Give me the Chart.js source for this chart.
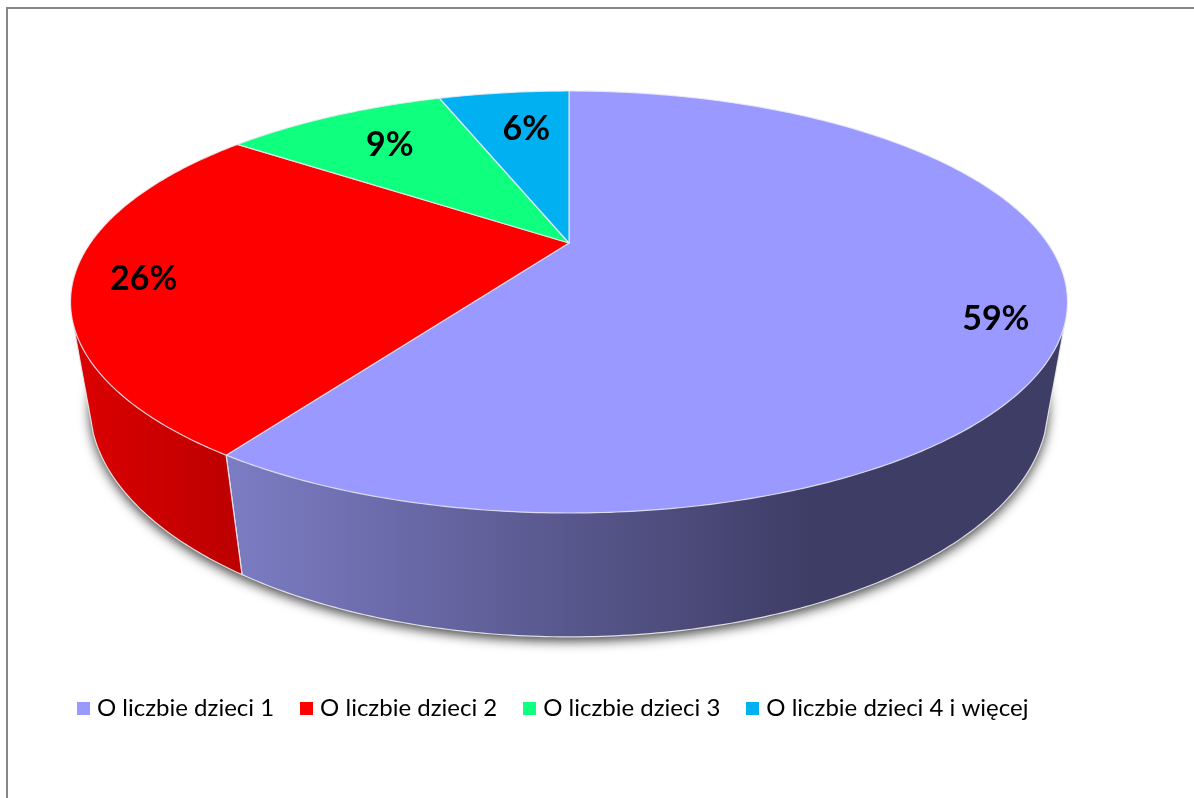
<!DOCTYPE html>
<html lang="pl">
<head>
<meta charset="utf-8">
<title>O liczbie dzieci</title>
<script src="https://cdn.jsdelivr.net/npm/chart.js@4"></script>
<style>
  html, body { margin: 0; background: #fff; overflow: hidden; }
  #box { position: absolute; left: 0; top: 0; width: 1194px; height: 798px; }
  #frame { position: absolute; left: 6px; top: 7px; right: 0; bottom: 0;
           border-left: 2px solid #868686; border-top: 2px solid #868686; }
</style>
</head>
<body>
<div id="box">
  <div id="frame"></div>
  <canvas id="chartMain" width="1194" height="798"></canvas>
</div>
<script>
// data
const categories = ['O liczbie dzieci 1', 'O liczbie dzieci 2', 'O liczbie dzieci 3', 'O liczbie dzieci 4 i więcej'];
const shares = [59.25, 25.8, 9.4, 5.55];
const sliceColors = ['#9999FF', '#FF0000', '#0FFF7F', '#00B0F0'];

// side wall shading, left and right colour of each slice
const wallLeft = ['#7C7CC4', '#DA0000', '#0FFF7F', '#00B0F0'];
const wallRight = ['#3E3D66', '#BC0000', '#0FFF7F', '#00B0F0'];
const wallFrom = [228, 85, 0, 0];
const wallTo = [810, 240, 1, 1];

// where each percent label sits: fraction of the radius, then a nudge in px
const labelRadius = [0.87, 0.87, 0.72, 0.7];
const labelNudgeX = [-2, 3, -1, 6];
const labelNudgeY = [24, 5, -2, -2];

// perspective of the disc
const view = { x: 569, y: 243, a: 478.6, b: 194.5, k: 0.2796, nadirY: 3030, depth: 0.0373, wallEdge: 0.386 };

function project(angle, frac, lower) {
  const u = Math.cos(angle) * frac, v = Math.sin(angle) * frac;
  const w = 1 - view.k * v;
  const X = view.x + view.a * u / w, Y = view.y + view.b * v / w;
  if (!lower) return [X, Y];
  const d = view.depth;
  return [(w * X + d * view.x) / (w + d), (w * Y + d * view.nadirY) / (w + d)];
}

function traceRim(ctx, from, to, frac, lower) {
  const steps = Math.max(2, Math.ceil(Math.abs(to - from) * 90));
  for (let i = 0; i <= steps; i++) {
    const p = project(from + (to - from) * i / steps, frac, lower);
    ctx.lineTo(p[0], p[1]);
  }
}

function strokeRuling(ctx, angle) {
  const p = project(angle, 1, false), q = project(angle, 1, true);
  ctx.beginPath();
  ctx.moveTo(p[0], p[1]);
  ctx.lineTo(q[0], q[1]);
  ctx.stroke();
}

class Arc3D extends Chart.ArcElement {
  static id = 'arc3d';
  draw(ctx) {
    const idx = this.$context.dataIndex;
    const o = this.options;
    const start = this.startAngle, end = this.endAngle;
    ctx.save();
    ctx.lineJoin = 'round';

    // front wall, only the part facing the viewer
    const a0 = Math.max(start, view.wallEdge), a1 = Math.min(end, Math.PI - view.wallEdge);
    if (a1 > a0) {
      const g = ctx.createLinearGradient(wallFrom[idx], 0, wallTo[idx], 0);
      g.addColorStop(0, wallLeft[idx]);
      g.addColorStop(1, wallRight[idx]);
      ctx.beginPath();
      traceRim(ctx, a0, a1, 1, false);
      traceRim(ctx, a1, a0, 1, true);
      ctx.closePath();
      ctx.fillStyle = g;
      ctx.fill();
      ctx.strokeStyle = 'rgba(235,235,240,0.9)';
      ctx.lineWidth = 1.2;
      ctx.beginPath();
      traceRim(ctx, a0, a1, 1, true);
      ctx.stroke();
      strokeRuling(ctx, a0);
      strokeRuling(ctx, a1);
    }

    // top of the slice
    ctx.beginPath();
    ctx.moveTo(view.x, view.y);
    traceRim(ctx, start, end, 1, false);
    ctx.closePath();
    ctx.fillStyle = o.backgroundColor;
    ctx.fill();
    ctx.strokeStyle = o.borderColor;
    ctx.lineWidth = o.borderWidth;
    ctx.stroke();
    ctx.restore();
  }
}

class Pie3D extends Chart.PieController {
  static id = 'pie3d';
  static defaults = { dataElementType: 'arc3d' };
}

Chart.register(Arc3D, Pie3D);

// soft shadow under the disc
const discShadow = {
  id: 'discShadow',
  beforeDatasetsDraw(chart) {
    const ctx = chart.ctx;
    ctx.save();
    ctx.shadowColor = 'rgba(0,0,0,0.75)';
    ctx.shadowBlur = 12;
    ctx.shadowOffsetY = 4;
    ctx.fillStyle = '#777';
    ctx.beginPath();
    traceRim(ctx, 0, Math.PI * 2, 1, true);
    ctx.closePath();
    ctx.fill();
    ctx.restore();
  }
};

// percent labels on the slices
const percentLabels = {
  id: 'percentLabels',
  afterDatasetsDraw(chart) {
    const ctx = chart.ctx;
    const total = shares.reduce((a, b) => a + b, 0);
    ctx.save();
    ctx.fillStyle = '#000';
    ctx.font = 'bold 34px Lato';
    ctx.textAlign = 'center';
    ctx.textBaseline = 'middle';
    chart.getDatasetMeta(0).data.forEach((arc, i) => {
      const p = project((arc.startAngle + arc.endAngle) / 2, labelRadius[i], false);
      ctx.fillText(Math.round(shares[i] / total * 100) + '%', p[0] + labelNudgeX[i], p[1] + labelNudgeY[i]);
    });
    ctx.restore();
  }
};

// legend marker as a small canvas, keeps the text close to the square
function legendMarker(color) {
  const c = document.createElement('canvas');
  c.width = 13;
  c.height = 13;
  const g = c.getContext('2d');
  g.fillStyle = color;
  g.fillRect(0, 0, 13, 13);
  return c;
}

var chartMain = new Chart(document.getElementById('chartMain'), {
  type: 'pie3d',
  data: {
    labels: categories,
    datasets: [{
      data: shares,
      backgroundColor: sliceColors,
      borderColor: 'rgba(235,235,245,0.85)',
      borderWidth: 1.2
    }]
  },
  options: {
    responsive: false,
    animation: false,
    layout: { padding: { left: 51, bottom: 68 } },
    plugins: {
      tooltip: { enabled: false },
      legend: {
        position: 'bottom',
        align: 'start',
        labels: {
          usePointStyle: true,
          pointStyleWidth: 3,
          boxHeight: 13,
          padding: 31,
          color: '#000',
          font: { family: 'Lato', size: 24 },
          generateLabels(chart) {
            return Chart.overrides.pie.plugins.legend.labels.generateLabels(chart).map((item, i) => {
              item.pointStyle = legendMarker(sliceColors[i]);
              return item;
            });
          }
        }
      }
    }
  },
  plugins: [discShadow, percentLabels]
});
</script>
</body>
</html>
